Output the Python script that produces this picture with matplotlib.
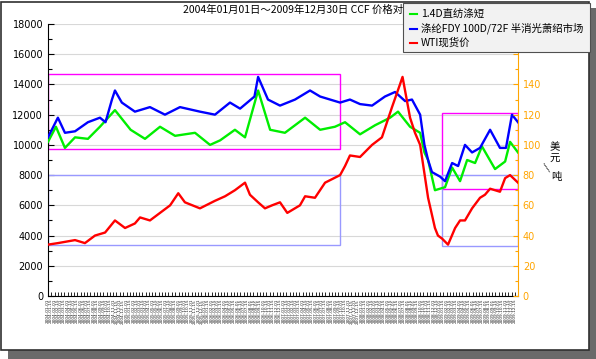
import numpy as np
import pandas as pd
import matplotlib
matplotlib.use('Agg')
import matplotlib.pyplot as plt
import matplotlib.dates as mdates
from matplotlib.patches import Rectangle
from matplotlib.lines import Line2D

plt.rcParams['font.family'] = ['Noto Sans CJK SC', 'DejaVu Sans']

title = '2004年01月01日～2009年12月30日 CCF 价格对比'
names = ['1.4D直纺涤短', '涤纶FDY 100D/72F 半消光萧绍市场', 'WTI现货价']
colors = ['#00ee00', '#0000ff', '#ff0000']

# 涤纶FDY (元/吨, 左轴)
fdy_dates = ['2004-01-01', '2004-02-16', '2004-03-20', '2004-05-06', '2004-07-05', '2004-08-30',
             '2004-09-25', '2004-10-25', '2004-11-08', '2004-12-10', '2005-02-09', '2005-04-20',
             '2005-06-29', '2005-09-07', '2005-12-09', '2006-02-17', '2006-04-28', '2006-06-14',
             '2006-08-20', '2006-09-06', '2006-10-22', '2006-12-17', '2007-02-25', '2007-05-06',
             '2007-06-22', '2007-09-23', '2007-11-08', '2007-12-25', '2008-02-19', '2008-04-19',
             '2008-06-05', '2008-07-22', '2008-08-23', '2008-09-30', '2008-10-20', '2008-11-06',
             '2008-11-24', '2009-01-01', '2009-01-24', '2009-02-26', '2009-03-26', '2009-04-27',
             '2009-05-30', '2009-07-06', '2009-08-22', '2009-10-07', '2009-11-04', '2009-12-02',
             '2009-12-30']
fdy_vals = [10500, 11800, 10800, 10900, 11500, 11800,
            11500, 13000, 13600, 12800, 12200, 12500,
            12000, 12500, 12200, 12000, 12800, 12400,
            13200, 14500, 13000, 12600, 13000, 13600,
            13200, 12800, 13000, 12700, 12600, 13200,
            13500, 12900, 13000, 12000, 10000, 9000,
            8200, 7900, 7600, 8800, 8600, 10000,
            9500, 9800, 11000, 9800, 9800, 12000,
            11500]

# 1.4D直纺涤短 (元/吨, 左轴)
psf_dates = ['2004-01-01', '2004-02-07', '2004-03-20', '2004-05-06', '2004-07-05', '2004-08-30',
             '2004-11-08', '2005-01-20', '2005-03-28', '2005-06-06', '2005-08-15', '2005-11-16',
             '2006-01-25', '2006-03-13', '2006-05-21', '2006-07-07', '2006-09-06', '2006-11-01',
             '2007-01-09', '2007-02-25', '2007-04-13', '2007-06-22', '2007-08-30', '2007-10-16',
             '2007-12-25', '2008-03-04', '2008-05-13', '2008-06-19', '2008-08-14', '2008-09-30',
             '2008-10-20', '2008-11-06', '2008-12-08', '2009-01-24', '2009-02-26', '2009-04-04',
             '2009-05-07', '2009-06-13', '2009-07-15', '2009-09-14', '2009-10-31', '2009-11-23',
             '2009-12-30']
psf_vals = [10200, 11200, 9800, 10500, 10400, 11200,
            12300, 11000, 10400, 11200, 10600, 10800,
            10000, 10300, 11000, 10500, 13600, 11000,
            10800, 11300, 11800, 11000, 11200, 11500,
            10700, 11300, 11800, 12200, 11200, 10800,
            9500, 9000, 7000, 7200, 8500, 7600,
            9000, 8800, 9900, 8400, 8900, 10200,
            9500]

# WTI现货价 (美元, 右轴)
wti_dates = ['2004-01-01', '2004-02-16', '2004-05-06', '2004-06-21', '2004-08-07', '2004-09-23',
             '2004-11-08', '2004-12-25', '2005-02-09', '2005-03-05', '2005-04-20', '2005-07-23',
             '2005-08-30', '2005-09-30', '2005-12-09', '2006-02-17', '2006-04-05', '2006-05-21',
             '2006-07-07', '2006-07-30', '2006-09-06', '2006-10-08', '2006-11-10', '2006-12-17',
             '2007-01-20', '2007-03-20', '2007-04-13', '2007-05-29', '2007-07-15', '2007-09-23',
             '2007-10-16', '2007-11-08', '2007-12-25', '2008-02-19', '2008-04-05', '2008-05-22',
             '2008-06-28', '2008-07-10', '2008-08-14', '2008-09-06', '2008-09-30', '2008-11-06',
             '2008-12-08', '2008-12-22', '2009-01-10', '2009-02-07', '2009-03-12', '2009-04-04',
             '2009-04-27', '2009-05-30', '2009-07-06', '2009-07-29', '2009-08-22', '2009-10-07',
             '2009-10-31', '2009-11-23', '2009-12-30']
wti_vals = [34, 35, 37, 35, 40, 42,
            50, 45, 48, 52, 50, 60,
            68, 62, 58, 63, 66, 70,
            75, 67, 62, 58, 60, 62,
            55, 60, 66, 65, 75, 80,
            86, 93, 92, 100, 105, 125,
            140, 145, 118, 108, 100, 65,
            45, 40, 38, 34, 45, 50,
            50, 58, 65, 67, 71, 69,
            78, 80, 75]

# 标注框 (左轴单位)
box_left = ('2004-01-01', '2007-09-23')
box_right = ('2009-01-10', '2009-12-30')
box_left_pink = (9700, 14700)
box_left_blue = (3350, 8000)
box_right_pink = (7100, 12100)
box_right_blue = (3300, 8000)

W, H = 596, 359
fig = plt.figure(figsize=(W / 100, H / 100), dpi=100)
fig.patch.set_facecolor('white')

# 阴影和外框
fig.patches.append(Rectangle((8 / W, 0), (W - 8) / W, (H - 8) / H, transform=fig.transFigure,
                             facecolor='#6a6a6a', edgecolor='none', zorder=-2))
fig.patches.append(Rectangle((1 / W, 9 / H), 588 / W, 348 / H, transform=fig.transFigure,
                             facecolor='white', edgecolor='#303030', lw=1.2, zorder=-1))

ax = fig.add_axes([48 / W, 63 / H, 470 / W, 272 / H])
ax.patch.set_alpha(0)
ax2 = ax.twinx()

d = pd.to_datetime
ax.plot(d(psf_dates), psf_vals, color=colors[0], lw=1.7, zorder=3)
ax.plot(d(fdy_dates), fdy_vals, color=colors[1], lw=1.7, zorder=3)
ax2.plot(d(wti_dates), wti_vals, color=colors[2], lw=1.7, zorder=3)

for (x0, x1), (p0, p1), (b0, b1) in [(box_left, box_left_pink, box_left_blue),
                                     (box_right, box_right_pink, box_right_blue)]:
    a, b = mdates.date2num(d(x0)), mdates.date2num(d(x1))
    ax.add_patch(Rectangle((a, p0), b - a, p1 - p0, fill=False, edgecolor='#ff00ff', lw=1, zorder=2))
    ax.add_patch(Rectangle((a, b0), b - a, b1 - b0, fill=False, edgecolor='#9999ff', lw=1, zorder=2))

ax.set_xlim(d('2004-01-01'), d('2009-12-30'))
ax.set_ylim(0, 18000)
ax2.set_ylim(0, 180)
ax.set_yticks(range(0, 18001, 2000))
ax.set_yticks(range(0, 18001, 1000), minor=True)
# 160、180 被图例挡住, 只留刻度
ax2.set_yticks(range(0, 181, 20))
ax2.set_yticklabels([str(v) if v <= 140 else '' for v in range(0, 181, 20)])
ax2.set_yticks(range(0, 181, 10), minor=True)
ax.grid(axis='y', color='#d8d8d8', lw=0.8)
ax.set_axisbelow(True)

# 半月一个日期标签
ticks = [t for m in pd.date_range('2004-01-01', '2009-12-01', freq='MS') for t in (m, m + pd.Timedelta(days=14))]
ax.set_xticks(ticks)
ax.set_xticklabels([t.strftime('%Y-%m-%d') for t in ticks], rotation=90, fontsize=3.1,
                   family='DejaVu Sans', color='#222222')
ax.tick_params(axis='x', direction='in', length=3, width=0.6, pad=2)
ax.tick_params(axis='y', which='both', direction='in', labelsize=7, width=0.8)
ax.tick_params(axis='y', which='minor', length=3)
ax.tick_params(axis='y', which='major', length=4)
for lab in ax.get_yticklabels():
    lab.set_family('DejaVu Sans')

orange = '#ffa500'
ax2.tick_params(axis='y', which='both', direction='in', colors=orange, labelsize=7, width=0.8)
for lab in ax2.get_yticklabels():
    lab.set_family('DejaVu Sans')
ax.spines['top'].set_visible(False)
ax2.spines['top'].set_visible(False)
ax.spines['right'].set_visible(False)
ax2.spines['left'].set_visible(False)
ax2.spines['bottom'].set_visible(False)
ax2.spines['right'].set_color(orange)

fig.text(183 / W, 1 - 10 / H, title, fontsize=7.5, va='center', ha='left')

# 图例
fig.patches.append(Rectangle((403 / W, 1 - 52 / H), 187 / W, 49 / H, transform=fig.transFigure,
                             facecolor='#f2f2f2', edgecolor='#505050', lw=0.8, zorder=5))
for i, (n, c) in enumerate(zip(names, colors)):
    y = 1 - (14 + 14.5 * i) / H
    fig.lines.append(Line2D([410 / W, 417 / W], [y, y], color=c, lw=1.5, transform=fig.transFigure, zorder=6))
    fig.text(421 / W, y, n, fontsize=7.5, va='center', ha='left', zorder=6)

fig.text(555 / W, 1 - 153 / H, '美\n元', fontsize=7.5, va='center', ha='center', linespacing=1.1)
fig.text(547 / W, 1 - 167 / H, '/', fontsize=7, va='center', ha='center', rotation=50)
fig.text(556 / W, 1 - 177 / H, '吨', fontsize=7.5, va='center', ha='center')

fig.savefig('out.png', dpi=100)
